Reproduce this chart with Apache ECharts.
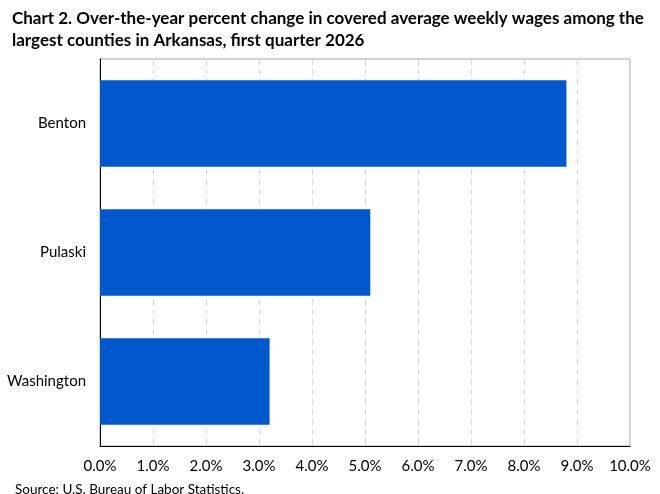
<!DOCTYPE html>
<html><head><meta charset="utf-8">
<script src="https://cdn.jsdelivr.net/npm/echarts@6/dist/echarts.min.js"></script>
<style>html,body{margin:0;padding:0;background:#fff}#c{width:660px;height:494px}</style>
</head><body><div id="c"></div>
<script>
const categories = ['Washington', 'Pulaski', 'Benton'];
const values = [3.2, 5.1, 8.8];
const titleText = 'Chart 2. Over-the-year percent change in covered average weekly wages among the\nlargest counties in Arkansas, first quarter 2026';
const sourceText = 'Source: U.S. Bureau of Labor Statistics.';
const font = 'Lato';
const chart = echarts.init(document.getElementById('c'));
chart.setOption({
  animation: false,
  title: [{
    text: titleText, left: 7, top: 3,
    textStyle: {fontFamily: font, fontWeight: 'bold', fontSize: 17, color: '#000', lineHeight: 22}
  }, {
    text: sourceText, left: 10, top: 478,
    textStyle: {fontFamily: font, fontWeight: 'normal', fontSize: 13.5, color: '#000'}
  }],
  grid: {left: 100, right: 30, top: 59, bottom: 48, show: true, borderColor: '#a6a6a6', borderWidth: 1},
  xAxis: {
    type: 'value', min: 0, max: 10, interval: 1,
    axisLine: {show: true, lineStyle: {color: '#000', width: 1}},
    axisTick: {show: false},
    splitLine: {show: true, lineStyle: {color: '#d9d9d9', type: [6, 4], width: 1}},
    axisLabel: {formatter: v => v.toFixed(1) + '%', fontFamily: font, fontSize: 15, color: '#000', margin: 13}
  },
  yAxis: {
    type: 'category', data: categories,
    axisLine: {show: true, lineStyle: {color: '#000', width: 1}},
    axisTick: {show: false},
    axisLabel: {fontFamily: font, fontSize: 15, color: '#000', margin: 14}
  },
  series: [{
    type: 'bar', data: values, barCategoryGap: '33%',
    itemStyle: {color: '#0058cc'}
  }]
});
</script></body></html>
